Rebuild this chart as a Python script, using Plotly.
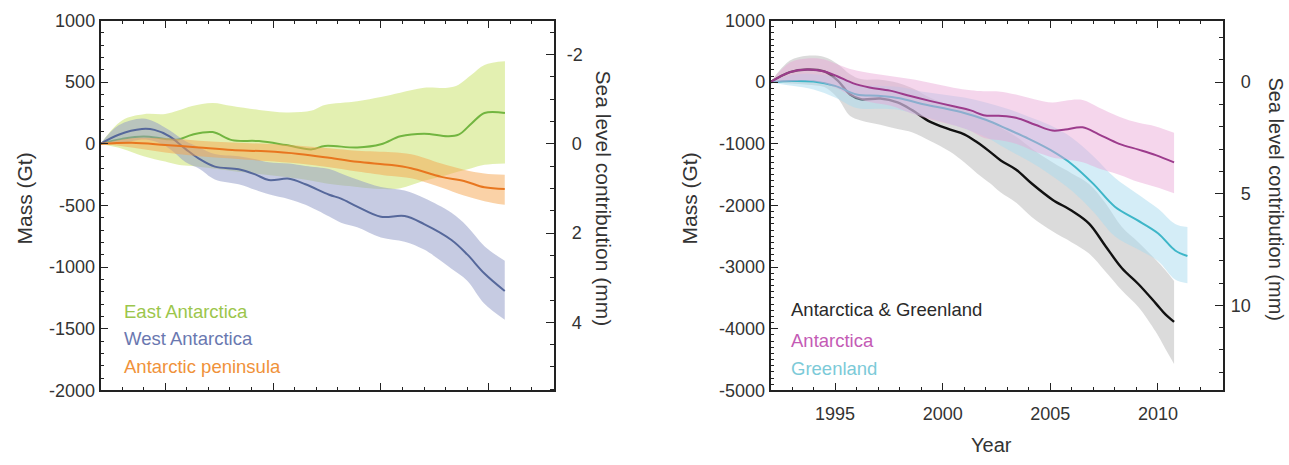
import plotly.graph_objects as go

# Conversion between ice mass and global sea level
GT_PER_MM = 362.0

# ---------------- Left panel: Antarctic regions ----------------
ea_years = [1992, 1993, 1994, 1995, 1995.6, 1996.25, 1997.2, 1998.1, 1999.35, 2000.6,
            2001.8, 2002.4, 2003.9, 2005.0, 2005.9, 2007.0, 2008.1, 2008.6, 2009.2,
            2009.8, 2010.75]
ea_mass = [0, 40, 60, 40, 35, 74, 95, 30, 22, -10, -45, -17, -30, -4, 61, 82, 61, 74,
           165, 250, 250]
ea_upper = [0, 190, 240, 242, 270, 307, 332, 307, 275, 255, 270, 315, 346, 380, 415,
            455, 455, 480, 560, 640, 669]
ea_lower = [0, -40, -100, -144, -170, -180, -200, -220, -245, -270, -300, -320, -350,
            -367, -360, -300, -250, -225, -198, -170, -159]

wa_years = [1992, 1992.84, 1993.92, 1994.5, 1995.2, 1995.95, 1996.56, 1997.3, 1998.4,
            1999.2, 1999.8, 2000.74, 2001.5, 2002.6, 2003.15, 2003.9, 2005.0, 2006.1,
            2007.0, 2008.27, 2009.0, 2009.8, 2010.74]
wa_mass = [0, 74, 120, 113, 61, -43, -120, -185, -206, -250, -294, -283, -328, -413,
           -444, -509, -592, -586, -651, -780, -897, -1052, -1194]
wa_upper = [0, 150, 206, 180, 110, 20, -27, -82, -100, -125, -150, -160, -180, -205,
            -240, -289, -350, -379, -440, -560, -670, -830, -949]
wa_lower = [0, 0, 35, 20, -40, -150, -200, -289, -328, -375, -410, -450, -495, -590,
            -640, -677, -760, -794, -858, -1013, -1110, -1298, -1427]

ap_years = [1992, 1993.45, 1995, 1996.56, 1998.1, 1999.66, 2001.2, 2002.6, 2003.9,
            2005.5, 2006.4, 2007.8, 2008.85, 2009.8, 2010.74]
ap_mass = [0, 9, -9, -30, -50, -61, -82, -113, -146, -172, -198, -268, -301, -353, -367]
ap_upper = [0, 45, 45, 25, 10, 0, -15, -35, -56, -68, -85, -160, -210, -240, -250]
ap_lower = [0, -30, -70, -100, -120, -140, -160, -190, -224, -262, -280, -355, -420,
            -465, -495]

# ---------------- Right panel: ice sheets ----------------
ag_years = [1992, 1992.9, 1993.7, 1994.5, 1995.1, 1995.7, 1996.2, 1997.1, 1997.9,
            1998.6, 1999.4, 2000.35, 2001.0, 2001.6, 2002.2, 2002.7, 2003.4, 2004.15,
            2005.1, 2006.0, 2006.8, 2007.56, 2008.33, 2009.1, 2009.9, 2010.35, 2010.75]
ag_mass = [0, 163, 205, 174, 34, -199, -277, -266, -329, -458, -639, -768, -846, -975,
           -1130, -1270, -1415, -1648, -1906, -2087, -2294, -2657, -3019, -3278, -3588,
           -3768, -3888]
ag_upper = [0, 350, 430, 410, 300, 130, 50, 40, -10, -100, -250, -380, -440, -530,
            -650, -740, -880, -1080, -1300, -1480, -1650, -1960, -2350, -2600, -2880,
            -3050, -3225]
ag_lower = [0, -20, -40, -80, -250, -550, -620, -690, -760, -815, -950, -1130, -1300,
            -1480, -1640, -1790, -1950, -2191, -2420, -2600, -2780, -3070, -3380,
            -3650, -4050, -4330, -4571]

an_years = [1992, 1992.9, 1993.7, 1994.5, 1995.1, 1995.85, 1996.6, 1997.55, 1998.5,
            1999.4, 2000.5, 2001.3, 2001.9, 2002.6, 2003.4, 2004.3, 2005.1, 2005.7,
            2006.5, 2007.25, 2008.2, 2009.1, 2009.9, 2010.75]
an_mass = [0, 163, 205, 174, 96, -19, -85, -137, -225, -303, -391, -458, -535, -546,
           -577, -691, -784, -768, -732, -846, -1001, -1094, -1183, -1301]
an_upper = [0, 318, 385, 369, 292, 200, 150, 100, 50, -10, -90, -130, -147, -150, -200,
            -280, -330, -300, -290, -410, -560, -660, -717, -820]
an_lower = [0, 10, 25, -20, -100, -240, -320, -380, -500, -600, -700, -790, -900, -940,
            -1000, -1130, -1220, -1250, -1300, -1400, -1500, -1620, -1700, -1800]

gr_years = [1992, 1993, 1994, 1995, 1996, 1997, 1998, 1999, 2000, 2001, 2002, 2003,
            2004, 2005, 2006, 2007, 2008, 2009, 2010, 2010.8, 2011.37]
gr_mass = [0, 20, 10, -60, -200, -220, -260, -350, -420, -500, -610, -760, -920,
           -1100, -1330, -1650, -2020, -2230, -2450, -2730, -2820]
gr_upper = [0, 120, 130, 90, -40, -60, -80, -150, -200, -250, -330, -430, -560, -700,
            -900, -1200, -1550, -1800, -2050, -2300, -2350]
gr_lower = [0, -60, -120, -250, -420, -430, -450, -550, -640, -750, -890, -1090, -1280,
            -1500, -1760, -2100, -2500, -2700, -2900, -3200, -3260]

# ---------------- Tick labels ----------------
left_mass_ticks = [1000, 500, 0, -500, -1000, -1500, -2000]
left_mass_text = ["1000", "500", "0", "-500", "-1000", "-1500", "-2000"]
left_sea_ticks = [-2, 0, 2, 4]
left_sea_text = ["-2", "\u20080", "\u20082", "\u20084"]
right_mass_ticks = [1000, 0, -1000, -2000, -3000, -4000, -5000]
right_mass_text = ["1000", "0", "-1000", "-2000", "-3000", "-4000", "-5000"]
right_sea_ticks = [0, 5, 10]
right_sea_text = ["\u20070", "\u20075", "10"]
year_ticks = [1995, 2000, 2005, 2010]
year_text = ["1995", "2000", "2005", "2010"]

FONT = "Liberation Sans, Arial, Helvetica, sans-serif"
TXT = "#333333"
AXC = "#222222"

fig = go.Figure()


def add_series(years, mass, upper, lower, fill, line, width, xa, ya):
    # uncertainty envelope: lower edge, then upper edge filled down to it
    fig.add_trace(go.Scatter(
        x=years, y=lower, mode="lines", line=dict(width=0, shape="spline", color=fill),
        hoverinfo="skip", showlegend=False, xaxis=xa, yaxis=ya))
    fig.add_trace(go.Scatter(
        x=years, y=upper, mode="lines", fill="tonexty", fillcolor=fill,
        line=dict(width=0, shape="spline", color=fill),
        hoverinfo="skip", showlegend=False, xaxis=xa, yaxis=ya))
    fig.add_trace(go.Scatter(
        x=years, y=mass, mode="lines", line=dict(color=line, width=width, shape="spline"),
        showlegend=False, xaxis=xa, yaxis=ya))


add_series(ea_years, ea_mass, ea_upper, ea_lower, "rgba(200,225,100,0.5)", "#72b540", 2, "x", "y")
add_series(wa_years, wa_mass, wa_upper, wa_lower, "rgba(145,155,200,0.52)", "#56689b", 2, "x", "y")
add_series(ap_years, ap_mass, ap_upper, ap_lower, "rgba(245,165,80,0.5)", "#e8761f", 2, "x", "y")

add_series(ag_years, ag_mass, ag_upper, ag_lower, "rgba(190,190,190,0.55)", "#111111", 2.4, "x2", "y2")
add_series(gr_years, gr_mass, gr_upper, gr_lower, "rgba(170,220,240,0.5)", "#3eb6c8", 2, "x2", "y2")
add_series(an_years, an_mass, an_upper, an_lower, "rgba(232,165,212,0.45)", "#9c3b8c", 2, "x2", "y2")

# Sea-level equivalents carried on the right-hand axes
fig.add_trace(go.Scatter(x=ap_years, y=[-m / GT_PER_MM for m in ap_mass], mode="lines",
                         line=dict(width=0), opacity=0, hoverinfo="skip",
                         showlegend=False, xaxis="x", yaxis="y3"))
fig.add_trace(go.Scatter(x=ag_years, y=[-m / GT_PER_MM for m in ag_mass], mode="lines",
                         line=dict(width=0), opacity=0, hoverinfo="skip",
                         showlegend=False, xaxis="x2", yaxis="y4"))

Y_DOM = [1 - 397.5 / 465, 1 - 11 / 465]
LEFT_DOM = [100.5 / 1289, 553.5 / 1289]
RIGHT_DOM = [770.5 / 1289, 1222.5 / 1289]

common = dict(showgrid=False, zeroline=False, showline=True, linecolor=AXC, linewidth=1.5,
              ticks="inside", tickcolor=AXC, tickwidth=1.3,
              tickfont=dict(family=FONT, size=18, color=TXT))


def xaxis(domain, anchor, show_labels):
    return dict(common, domain=domain, anchor=anchor, range=[1992, 2013],
                tickvals=year_ticks, ticktext=year_text, ticklen=8, mirror="ticks",
                showticklabels=show_labels, ticklabelstandoff=6,
                minor=dict(dtick=1, tick0=1992, ticks="inside", ticklen=4,
                           tickcolor=AXC, tickwidth=1.2))


def mass_axis(anchor, rng, vals, text, minor):
    return dict(common, domain=Y_DOM, anchor=anchor, range=rng, tickvals=vals,
                ticktext=text, ticklen=8, mirror=True,
                minor=dict(dtick=minor, ticks="inside", ticklen=4, tickcolor=AXC,
                           tickwidth=1.2))


def sea_axis(anchor, over, rng, vals, text, minor, standoff):
    return dict(common, anchor=anchor, overlaying=over, side="right", range=rng,
                tickvals=vals, ticktext=text, ticklen=8, ticklabelstandoff=standoff,
                minor=dict(dtick=minor, ticks="inside", ticklen=4, tickcolor=AXC,
                           tickwidth=1.2))


fig.update_layout(
    width=1289, height=465, margin=dict(l=0, r=0, t=0, b=0),
    paper_bgcolor="white", plot_bgcolor="white", showlegend=False,
    font=dict(family=FONT, size=18, color=TXT),
    xaxis=xaxis(LEFT_DOM, "y", False),
    yaxis=mass_axis("x", [-2000, 1000], left_mass_ticks, left_mass_text, 100),
    yaxis3=sea_axis("x", "y", [2000 / GT_PER_MM, -1000 / GT_PER_MM],
                    left_sea_ticks, left_sea_text, 0.5, 8),
    xaxis2=xaxis(RIGHT_DOM, "y2", True),
    yaxis2=mass_axis("x2", [-5000, 1000], right_mass_ticks, right_mass_text, 100),
    yaxis4=sea_axis("x2", "y2", [5000 / GT_PER_MM, -1000 / GT_PER_MM],
                    right_sea_ticks, right_sea_text, 1, 3),
)


def label(text, x, y, angle=0, color=TXT, anchor="center", size=18):
    fig.add_annotation(text=text, x=x / 1289, y=1 - y / 465, xref="paper", yref="paper",
                       showarrow=False, textangle=angle, xanchor=anchor, yanchor="middle",
                       font=dict(family=FONT, size=size, color=color))


# Axis titles
label("Mass (Gt)", 25, 197, angle=-90, size=21)
label("Mass (Gt)", 690, 197, angle=-90, size=21)
label("Sea level contribution (mm)", 603, 197, angle=90, size=21)
label("Sea level contribution (mm)", 1276, 197, angle=90, size=20)
label("Year", 991, 455, size=20)

# Series names
label("East Antarctica", 122, 315, color="#9cc64c", anchor="left", size=18.5)
label("West Antarctica", 122, 343, color="#6a78b0", anchor="left", size=18.5)
label("Antarctic peninsula", 122, 372, color="#f0923a", anchor="left", size=18.5)
label("Antarctica &amp; Greenland", 789, 313, color="#2a2a2a", anchor="left", size=18.5)
label("Antarctica", 789, 345, color="#c45bb5", anchor="left", size=18.5)
label("Greenland", 789, 375, color="#7ccad8", anchor="left", size=18.5)

fig.write_html("out.html")
